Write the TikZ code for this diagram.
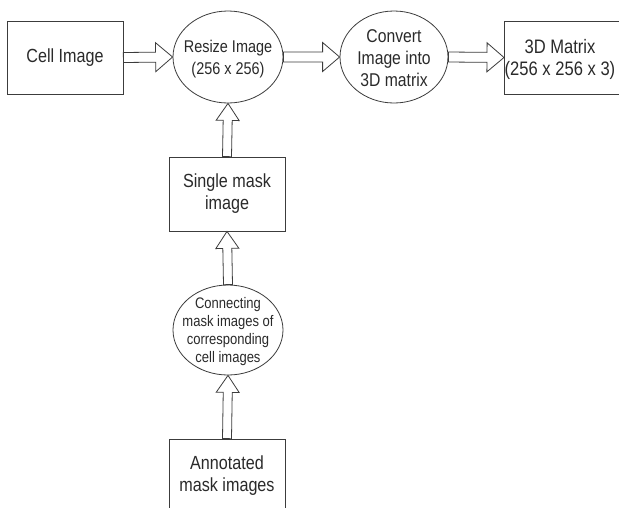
\documentclass[tikz,border=0pt]{standalone}
\usepackage{fontspec}
\setmainfont{Liberation Sans}[FakeStretch=0.85]
\usetikzlibrary{shapes.geometric,calc}
\definecolor{ink}{HTML}{3C3C3C}
\definecolor{txt}{HTML}{2A2A2A}
% hollow block arrow: from, to, shaft half width, head half width
\newcommand\hollowarrow[4]{%
  \draw[arrowline] let \p1=(#1), \p2=(#2),
      \n1={atan2(\y2-\y1,\x2-\x1)}, \n2={veclen(\x2-\x1,\y2-\y1)} in
    {[shift={(\p1)}, rotate=\n1]
      (0,#3) -- ({\n2-17},#3) -- ({\n2-17},#4) -- (\n2,0)
      -- ({\n2-17},-#4) -- ({\n2-17},-#3) -- (0,-#3) -- cycle};}
\tikzset{
  arrowline/.style={draw=ink, line width=0.8pt, fill=white},
  box/.style={draw=ink, line width=0.8pt, rectangle, minimum width=116pt,
    minimum height=73pt, inner sep=0pt, align=center, text=txt,
    font=\fontsize{19}{22}\selectfont},
  oval/.style={draw=ink, line width=0.8pt, ellipse, inner sep=0pt},
  label text/.style={align=center, text=txt, inner sep=0pt},
}
\begin{document}
\begin{tikzpicture}[x=1pt, y=-1pt]
  \useasboundingbox (0,0) rectangle (619,507);
  \fill[white] (0,0) rectangle (619,507);
  \clip (0,0) rectangle (619,507);

  % top row
  \node[box] (cell) at (65,57.5) {Cell Image};
  \node[oval, minimum width=110pt, minimum height=92pt] (resize) at (228,57) {};
  \node[label text, font=\fontsize{17}{21.5}\selectfont] (resize-text) at (228,59)
    {Resize Image\\(256 x 256)};
  \node[oval, minimum width=108pt, minimum height=92pt] (convert) at (394,57) {};
  \node[label text, font=\fontsize{18.5}{22}\selectfont] (convert-text) at (394,58)
    {Convert\\Image into\\3D matrix};
  \node[box, anchor=west, minimum width=150pt] (mat) at (504,57.5) {};
  \node[label text, font=\fontsize{19.5}{22}\selectfont] (mat-text) at (560,59)
    {3D Matrix\\(256 x 256 x 3)};

  % vertical chain
  \node[box, minimum height=74pt] (single) at (227,194) {Single mask\\image};
  \node[oval, minimum width=110pt, minimum height=90pt] (connect) at (228,330) {};
  \node[label text, font=\fontsize{15.3}{18}\selectfont] (connect-text) at (228,332)
    {Connecting\\mask images of\\corresponding\\cell images};
  \node[box, minimum height=74pt] (annot) at (227,476) {Annotated\\mask images};

  % connectors
  \hollowarrow{cell.east}{resize.west}{5}{14.5}
  \hollowarrow{resize.east}{convert.west}{5}{14.5}
  \hollowarrow{convert.east}{mat.west}{5}{14.5}
  \hollowarrow{single.north}{resize.south}{4.5}{11.5}
  \hollowarrow{connect.north}{single.south}{4.5}{11.5}
  \hollowarrow{annot.north}{connect.south}{4.5}{11.5}
\end{tikzpicture}
\end{document}
